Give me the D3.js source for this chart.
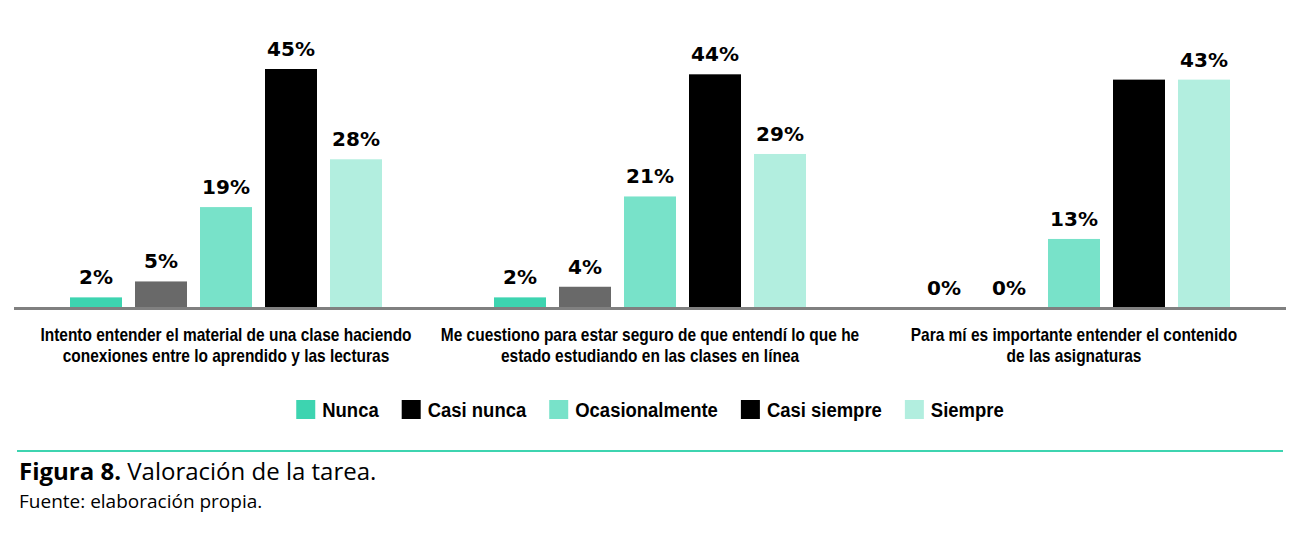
<!DOCTYPE html>
<html>
<head>
<meta charset="utf-8">
<script src="https://cdn.jsdelivr.net/npm/d3@7"></script>
<style>
    body { margin: 0; background: #fff; }
    .value { font-family: "DejaVu Sans", sans-serif; font-weight: bold; font-size: 20px; fill: #000; }
    .cat { font-family: "Liberation Sans", Arial, sans-serif; font-weight: bold; font-size: 18px; fill: #000; }
    .legend { font-family: "Liberation Sans", Arial, sans-serif; font-weight: bold; font-size: 21px; fill: #000; }
    .caption { font-family: "Open Sans", sans-serif; fill: #000; }
</style>
</head>
<body>
<div id="chart"></div>
<script>
// categories (two lines each)
const categories = [
    ["Intento entender el material de una clase haciendo", "conexiones entre lo aprendido y las lecturas"],
    ["Me cuestiono para estar seguro de que entendí lo que he", "estado estudiando en las clases en línea"],
    ["Para mí es importante entender el contenido", "de las asignaturas"]
]
const series = ["Nunca", "Casi nunca", "Ocasionalmente", "Casi siempre", "Siempre"]

// values per series, one per category (%)
const nunca = [2, 2, 0]
const casiNunca = [5, 4, 0]
const ocasionalmente = [19, 21, 13]
const casiSiempre = [45, 44, 43]
const siempre = [28, 29, 43]

// the reference prints no label over this bar: [category, series]
const unlabeled = [[2, 3]]

const barColors = ["#3dd4b0", "#696969", "#78e2c9", "#000000", "#b2eedf"]
const legendColors = ["#3dd4b0", "#000000", "#78e2c9", "#000000", "#b2eedf"]

let values = [nunca, casiNunca, ocasionalmente, casiSiempre, siempre]

let width = 1310, height = 535
let svg = d3.select("#chart").append("svg")
    .attr("width", width)
    .attr("height", height)

// no narrow font installed, so squeeze the regular one
let catSqueeze = 0.86
let legSqueeze = 0.88

let x0 = d3.scaleBand()
    .domain(d3.range(categories.length))
    .range([14, 1286])

let x1 = d3.scaleBand()
    .domain(d3.range(series.length))
    .range([56, x0.bandwidth() - 56])
    .paddingInner(0.2)

let y = d3.scaleLinear()
    .domain([0, 45])
    .range([308, 69])

// flatten to one record per bar
let bars = []
categories.forEach((c, ci) => {
    series.forEach((s, si) => {
        bars.push({ci: ci, si: si, v: values[si][ci]})
    })
})

let groups = svg.selectAll(".group")
    .data(categories)
    .enter().append("g")
    .attr("class", "group")
    .attr("transform", (d, i) => `translate(${x0(i)},0)`)

groups.selectAll(".bar")
    .data((d, ci) => bars.filter(b => b.ci === ci))
    .enter().append("rect")
    .attr("class", "bar")
    .attr("x", d => x1(d.si))
    .attr("width", x1.bandwidth())
    .attr("y", d => y(d.v))
    .attr("height", d => y(0) - y(d.v))
    .attr("fill", d => barColors[d.si])

groups.selectAll(".value")
    .data((d, ci) => bars.filter(b => b.ci === ci && !unlabeled.some(u => u[0] === b.ci && u[1] === b.si)))
    .enter().append("text")
    .attr("class", "value")
    .attr("x", d => x1(d.si) + x1.bandwidth() / 2)
    .attr("y", d => y(d.v) - 13)
    .attr("text-anchor", "middle")
    .text(d => d.v + "%")

// baseline
svg.append("line")
    .attr("x1", x0.range()[0])
    .attr("x2", x0.range()[1])
    .attr("y1", y(0) + 0.5)
    .attr("y2", y(0) + 0.5)
    .attr("stroke", "#808080")
    .attr("stroke-width", 3)

// category labels
groups.append("text")
    .attr("class", "cat")
    .attr("text-anchor", "middle")
    .attr("transform", `translate(${x0.bandwidth() / 2},0) scale(${catSqueeze},1)`)
    .attr("y", 341)
    .selectAll("tspan")
    .data(d => d)
    .enter().append("tspan")
    .attr("x", 0)
    .attr("dy", (d, i) => i === 0 ? 0 : 21)
    .text(d => d)

// legend, centred under the plot
let legend = svg.append("g")
let lx = 0
series.forEach((s, i) => {
    let item = legend.append("g").attr("transform", `translate(${lx},0)`)
    item.append("rect")
        .attr("width", 19)
        .attr("height", 19)
        .attr("y", 400)
        .attr("fill", legendColors[i])
    let t = item.append("text")
        .attr("class", "legend")
        .attr("transform", `translate(26,0) scale(${legSqueeze},1)`)
        .attr("y", 417)
        .text(s)
    lx += 26 + t.node().getComputedTextLength() * legSqueeze + 23
})
let legendW = lx - 23
legend.attr("transform", `translate(${(x0.range()[0] + x0.range()[1]) / 2 - legendW / 2},0)`)

// caption
svg.append("line")
    .attr("x1", 17).attr("x2", 1283)
    .attr("y1", 451).attr("y2", 451)
    .attr("stroke", "#3dd4b0")
    .attr("stroke-width", 2)

let cap = svg.append("text")
    .attr("class", "caption")
    .attr("x", 19)
    .attr("y", 480)
    .style("font-size", "24px")
cap.append("tspan").style("font-weight", "bold").text("Figura 8.")
cap.append("tspan").text(" Valoración de la tarea.")

svg.append("text")
    .attr("class", "caption")
    .attr("x", 19)
    .attr("y", 508)
    .style("font-size", "19px")
    .text("Fuente: elaboración propia.")
</script>
</body>
</html>
